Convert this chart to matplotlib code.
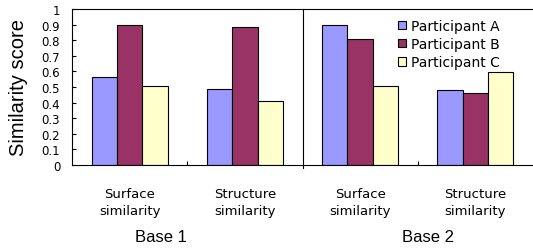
import numpy as np
from matplotlib import pyplot as plt

categories = ["Surface\nsimilarity", "Structure\nsimilarity", "Surface\nsimilarity", "Structure\nsimilarity"]
participant_a = [0.562, 0.490, 0.900, 0.483]
participant_b = [0.900, 0.883, 0.810, 0.460]
participant_c = [0.504, 0.412, 0.504, 0.594]
series_names = ["Participant A", "Participant B", "Participant C"]
colors = ["#9999FF", "#993366", "#FFFFCC"]
yticks = [0, 0.1, 0.2, 0.3, 0.4, 0.5, 0.6, 0.7, 0.8, 0.9, 1]
ytick_labels = ["0", "0.1", "0.2", "0.3", "0.4", "0.5", "0.6", "0.7", "0.8", "0.9", "1"]
group_titles = ["Base 1", "Base 2"]

fig = plt.figure(figsize=(5.33, 2.51), dpi=100)
ax = fig.add_axes([72/533, 85/251, 461/533, 156/251])

x = np.arange(len(categories))
w = 0.22
for i, (vals, name, col) in enumerate(zip([participant_a, participant_b, participant_c], series_names, colors)):
    ax.bar(x + (i - 1) * w, vals, w, color=col, edgecolor="black", linewidth=0.8, label=name)

ax.set_xlim(-0.5, 3.5)
ax.set_ylim(0, 1)
ax.set_yticks(yticks)
ax.set_yticklabels(ytick_labels, fontsize=8.5, family="DejaVu Sans")
ax.tick_params(axis="y", direction="in", length=3, width=0.8, pad=8.5)
ax.set_xticks(x)
ax.set_xticklabels(categories, fontsize=9.5, family="DejaVu Sans", linespacing=1.4)
ax.tick_params(axis="x", which="major", length=0, pad=16)
ax.set_xticks([0.5, 2.5], minor=True)
ax.tick_params(axis="x", which="minor", direction="in", length=3, width=0.8)
ax.spines["right"].set_visible(False)
for s in ["left", "top", "bottom"]:
    ax.spines[s].set_linewidth(0.8)

# divider between Base 1 and Base 2
ax.axvline(1.5, ymin=-0.02, ymax=1, color="black", linewidth=0.8, clip_on=False)

ax.set_ylabel("Similarity score", fontsize=14.5, family="Liberation Sans")
ax.yaxis.set_label_coords(-44/461, 0.5)

fig.text(161/533, 1 - 237/251, group_titles[0], ha="center", va="center", fontsize=12, family="Liberation Sans")
fig.text(428/533, 1 - 237/251, group_titles[1], ha="center", va="center", fontsize=12, family="Liberation Sans")

ax.legend(loc="upper left", bbox_to_anchor=(398/533, 1 - 20/251), bbox_transform=fig.transFigure,
          frameon=False, borderpad=0, borderaxespad=0, handlelength=0.55, handleheight=0.55,
          handletextpad=0.4, labelspacing=0.3, prop={"family": "DejaVu Sans", "size": 10})

plt.savefig("out.png", dpi=100)
